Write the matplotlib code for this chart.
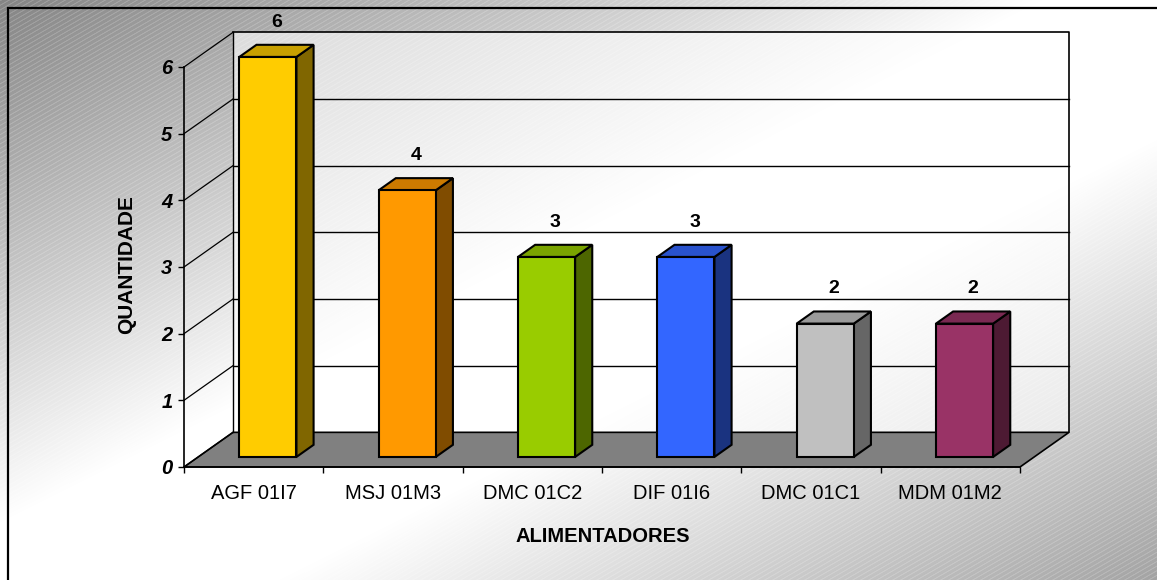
import numpy as np
import matplotlib
matplotlib.use("Agg")
import matplotlib.pyplot as plt
from matplotlib.patches import Polygon, Rectangle

plt.rcParams['font.family'] = ['Liberation Sans', 'DejaVu Sans']

# ---- data ----
categories = ['AGF 01I7', 'MSJ 01M3', 'DMC 01C2', 'DIF 01I6', 'DMC 01C1', 'MDM 01M2']
values = [6, 4, 3, 3, 2, 2]
front_colors = ['#FFCC00', '#FF9900', '#99CC00', '#3366FF', '#C0C0C0', '#993366']
side_colors = ['#806600', '#804C00', '#4D6600', '#1A3380', '#666666', '#4D1A33']
top_colors = ['#C8A000', '#CC7A00', '#7AA300', '#2952CC', '#9A9A9A', '#7A2952']
yticks = [0, 1, 2, 3, 4, 5, 6]
ylabel = 'QUANTIDADE'
xlabel = 'ALIMENTADORES'

W, H = 1157, 580
fig = plt.figure(figsize=(W / 100, H / 100), dpi=100)

# ---- background gradient with fine diagonal stripes ----
bg = fig.add_axes([0, 0, 1, 1])
yy, xx = np.mgrid[0:H, 0:W].astype(float)
t = (xx / W + yy / H) / 2.0
g = np.interp(t, [0, 0.45, 0.62, 1.0], [0.52, 1.0, 1.0, 0.64])
phase = (xx * 0.5 + yy * 0.866) / 4.0
stripe = np.clip((np.cos(2 * np.pi * phase) - 0.3) / 0.7, 0, 1)
g = g + (1 - g) * 0.18 * stripe
img = np.dstack([g, g, g])
bg.imshow(img, extent=[0, 1, 0, 1], aspect='auto', zorder=0, interpolation='nearest')
bg.set_xlim(0, 1)
bg.set_ylim(0, 1)
bg.axis('off')

# outer frame
fig.patches.append(Rectangle((8 / W, -0.1), 1.2, (H - 8) / H + 0.1, transform=fig.transFigure,
                             fill=False, edgecolor='black', linewidth=1.6, zorder=5))

# ---- main axes ----
ax = fig.add_axes([184 / W, (H - 467) / H, 836 / W, 400 / H])
ax.set_facecolor('none')
n = len(categories)
xmin, xmax = -0.5, n - 0.5
ymax = max(yticks)
ax.set_xlim(xmin, xmax)
ax.set_ylim(0, ymax)

DX, DY = 0.3517, 0.52   # depth offset (category units, value units)
f0, f1 = 0.29, 0.64     # bar depth span
hw = 0.205              # bar half width

# floor
ax.add_patch(Polygon([(xmin, 0), (xmax, 0), (xmax + DX, DY), (xmin + DX, DY)], closed=True,
                     facecolor='#808080', edgecolor='black', linewidth=1.2, zorder=1, clip_on=False))
# back wall
ax.add_patch(Polygon([(xmin + DX, DY), (xmax + DX, DY), (xmax + DX, ymax + DY), (xmin + DX, ymax + DY)],
                     closed=True, facecolor='white', alpha=0.6, edgecolor='none', zorder=0.5, clip_on=False))
ax.plot([xmin + DX, xmax + DX, xmax + DX], [ymax + DY, ymax + DY, DY], color='black', lw=1.2,
        zorder=1.5, clip_on=False)
ax.plot([xmin + DX, xmin + DX], [DY, ymax + DY], color='black', lw=1.0, zorder=1.5, clip_on=False)
for k in yticks:
    ax.plot([xmin, xmin + DX], [k, k + DY], color='black', lw=0.9, zorder=1.5, clip_on=False)
    if 0 < k < ymax:
        ax.plot([xmin + DX, xmax + DX], [k + DY, k + DY], color='black', lw=1.0, zorder=1.2, clip_on=False)

# bars
dd = f1 - f0
for i, v in enumerate(values):
    x0 = i - hw + f0 * DX
    x1 = i + hw + f0 * DX
    y0 = f0 * DY
    front = Polygon([(x0, y0), (x1, y0), (x1, y0 + v), (x0, y0 + v)], closed=True,
                    facecolor=front_colors[i], edgecolor='black', linewidth=1.5, zorder=4, clip_on=False)
    side = Polygon([(x1, y0), (x1 + dd * DX, y0 + dd * DY), (x1 + dd * DX, y0 + v + dd * DY), (x1, y0 + v)],
                   closed=True, facecolor=side_colors[i], edgecolor='black', linewidth=1.5, zorder=3.9,
                   clip_on=False)
    top = Polygon([(x0, y0 + v), (x1, y0 + v), (x1 + dd * DX, y0 + v + dd * DY), (x0 + dd * DX, y0 + v + dd * DY)],
                  closed=True, facecolor=top_colors[i], edgecolor='black', linewidth=1.5, zorder=3.9,
                  clip_on=False)
    for p in (side, top, front):
        ax.add_patch(p)
    ax.text(i + (f0 + f1) / 2 * DX, v + f1 * DY + 0.34, str(v), ha='center', va='center',
            fontsize=14, fontweight='bold', color='black', zorder=6, clip_on=False)

# axes spines / ticks
for s in ('top', 'right'):
    ax.spines[s].set_visible(False)
ax.spines['left'].set_linewidth(1.2)
ax.spines['bottom'].set_linewidth(1.2)
ax.spines['left'].set_zorder(2)
ax.spines['bottom'].set_zorder(2)
ax.set_yticks(yticks)
ax.set_yticklabels([str(k) for k in yticks], fontsize=14.5, fontweight='bold', fontstyle='italic')
ax.tick_params(axis='y', direction='out', length=4.3, width=1, pad=4, colors='black')
ax.set_xticks(np.arange(n + 1) - 0.5)
ax.set_xticklabels([])
ax.set_xticks(np.arange(n), minor=True)
ax.set_xticklabels(categories, minor=True, fontsize=14.5)
ax.tick_params(axis='x', which='major', direction='out', length=4.3, width=1)
ax.tick_params(axis='x', which='minor', length=0, pad=12)

ax.text(-57 / 836, 0.505, ylabel, transform=ax.transAxes, rotation=90, ha='center', va='center',
        fontsize=15, fontweight='bold')
ax.text(0.501, -70 / 400, xlabel, transform=ax.transAxes, ha='center', va='center',
        fontsize=14.5, fontweight='bold')

fig.savefig('out.png', dpi=100)
